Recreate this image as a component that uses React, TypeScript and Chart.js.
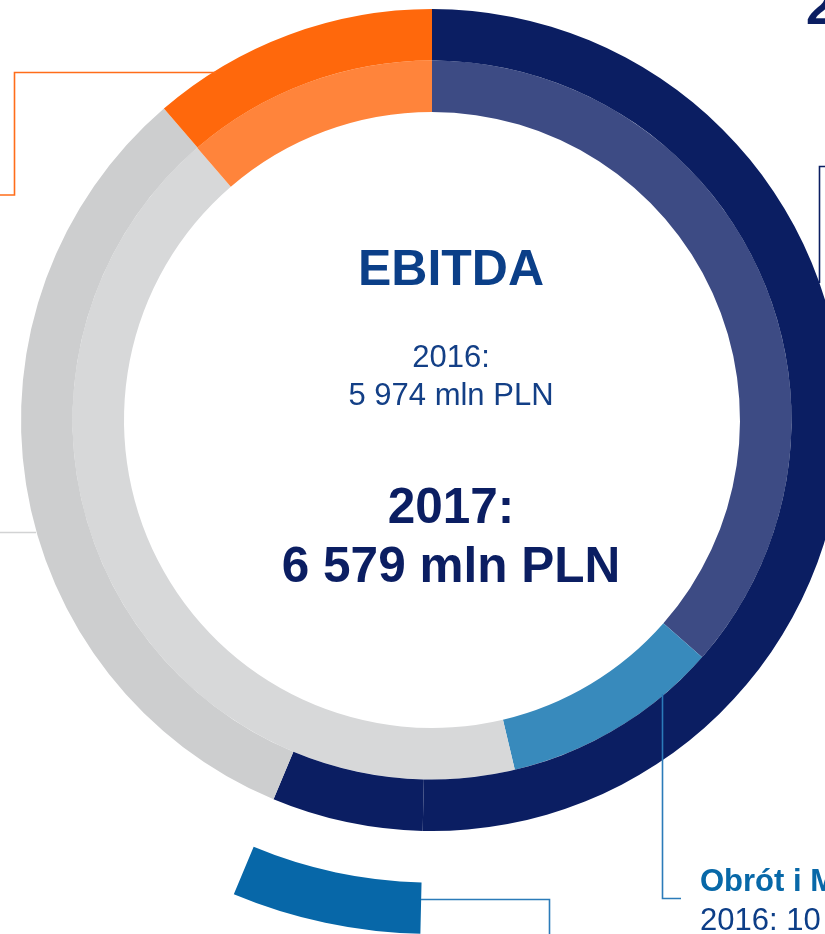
import React, { useEffect, useRef } from "react";
import { Chart, registerables } from "chart.js";

Chart.register(...registerables);

// Shares of the full circle (%), read clockwise from 12 o'clock
const segments2017 = ["Segment 1", "Segment 2", "Segment 3", "Segment 4"];
const shares2017 = [50.36, 5.94, 32.39, 11.31];
const colors2017 = ["#0b1e62", "#0b1e62", "#cdcecf", "#ff680c"];

const segments2016 = ["Segment 1", "Segment 2", "Segment 3", "Segment 4"];
const shares2016 = [36.47, 9.83, 42.37, 11.33];
const colors2016 = ["#3d4b84", "#388abc", "#d7d8d9", "#ff843b"];

// Highlighted (detached) arc: only the middle part is drawn
const highlightShares = [50.36, 5.94, 43.7];
const highlightColors = ["rgba(0,0,0,0)", "#0767a8", "rgba(0,0,0,0)"];

const centerTitle = "EBITDA";
const prevYearLines = ["2016:", "5 974 mln PLN"];
const currYearLines = ["2017:", "6 579 mln PLN"];
const sideLabelTitle = "Obrót i M";
const sideLabelValue = "2016: 10";

const FONT = "'Liberation Sans', Arial, Helvetica, sans-serif";

export default function App() {
  const canvasRef = useRef<HTMLCanvasElement | null>(null);

  useEffect(() => {
    if (!canvasRef.current) return;
    const chart = new Chart(canvasRef.current, {
      type: "doughnut",
      data: {
        labels: segments2017,
        datasets: [
          { label: "highlight", data: highlightShares, backgroundColor: highlightColors, borderWidth: 0 },
          { label: "spacer", data: [100], backgroundColor: ["rgba(0,0,0,0)"], borderWidth: 0 },
          { label: "2017", data: shares2017, backgroundColor: colors2017, borderWidth: 0 },
          { label: "2016", data: shares2016, backgroundColor: colors2016, borderWidth: 0 },
        ],
      },
      options: {
        animation: false,
        responsive: true,
        maintainAspectRatio: false,
        cutout: 308,
        layout: { padding: 0 },
        events: [],
        plugins: {
          legend: { display: false },
          tooltip: { enabled: false },
          title: { display: false },
        },
      },
    });
    return () => chart.destroy();
  }, []);

  const abs = (o: React.CSSProperties): React.CSSProperties => ({ position: "absolute", margin: 0, whiteSpace: "nowrap", ...o });

  return (
    <div
      style={{
        position: "fixed",
        left: 0,
        top: 0,
        width: 825,
        height: 934,
        overflow: "hidden",
        background: "#ffffff",
        fontFamily: FONT,
      }}
    >
      <div style={{ position: "absolute", left: -82, top: -94, width: 1028, height: 1028 }}>
        <canvas ref={canvasRef} />
      </div>

      <svg width={825} height={934} style={{ position: "absolute", left: 0, top: 0 }}>
        <polyline points="0,195 14.5,195 14.5,72.5 216,72.5" fill="none" stroke="#ff6d1a" strokeWidth={1.6} />
        <line x1={0} y1={532.5} x2={36} y2={532.5} stroke="#d2d3d4" strokeWidth={1.6} />
        <polyline points="819.5,283 819.5,166.5 825,166.5" fill="none" stroke="#0b1e62" strokeWidth={1.6} />
        <polyline points="662.5,694 662.5,898.5 681,898.5" fill="none" stroke="#2b7bb9" strokeWidth={1.6} />
        <polyline points="421,899.5 549.5,899.5 549.5,934" fill="none" stroke="#2b7bb9" strokeWidth={1.6} />
      </svg>

      <div style={abs({ left: 151, width: 600, top: 242.7, textAlign: "center", fontSize: 50, lineHeight: "50px", fontWeight: 700, color: "#0b3f88" })}>
        {centerTitle}
      </div>
      <div style={abs({ left: 151, width: 600, top: 340.8, textAlign: "center", fontSize: 31, color: "#133f86" })}>
        <div style={{ height: 38, lineHeight: "31px" }}>{prevYearLines[0]}</div>
        <div style={{ height: 38, lineHeight: "31px" }}>{prevYearLines[1]}</div>
      </div>
      <div style={abs({ left: 151, width: 600, top: 481.1, textAlign: "center", fontSize: 49.5, fontWeight: 700, color: "#0b1e62" })}>
        <div style={{ height: 59, lineHeight: "49.5px" }}>{currYearLines[0]}</div>
        <div style={{ height: 59, lineHeight: "49.5px" }}>{currYearLines[1]}</div>
      </div>

      <div style={abs({ left: 700, top: 864.8, fontSize: 31, lineHeight: "31px", fontWeight: 700, color: "#0868a8" })}>
        {sideLabelTitle}
      </div>
      <div style={abs({ left: 700, top: 903.8, fontSize: 31, lineHeight: "31px", color: "#0d3e87" })}>
        {sideLabelValue}
      </div>

      <div style={abs({ left: 806, top: -18, fontSize: 50, lineHeight: "50px", fontWeight: 700, color: "#0b1e62" })}>2</div>
    </div>
  );
}
